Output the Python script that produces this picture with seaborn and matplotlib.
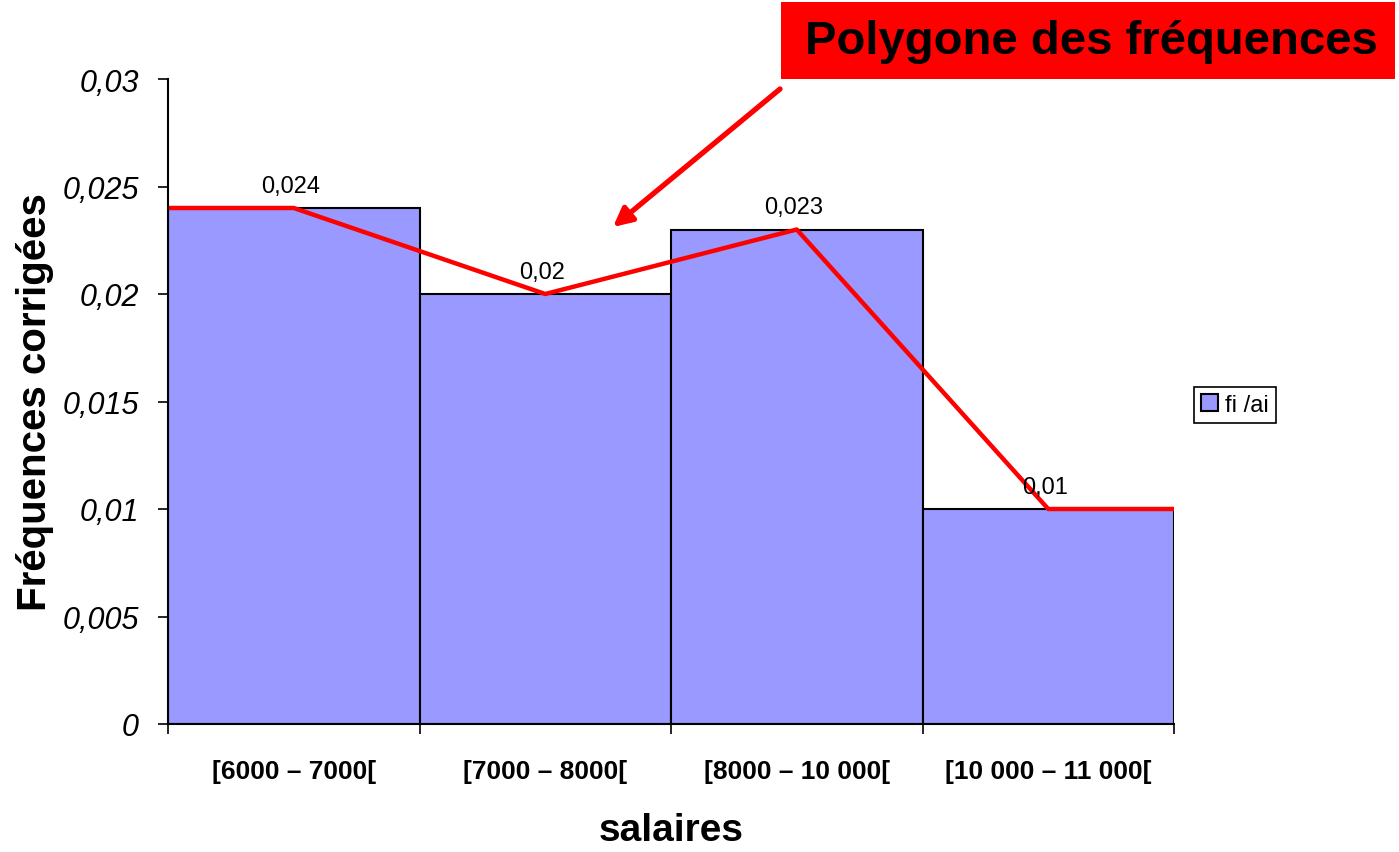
import matplotlib
matplotlib.use("Agg")
import matplotlib.pyplot as plt
from matplotlib.patches import Rectangle, Patch
import numpy as np
import pandas as pd
import seaborn as sns

# données
classes = ["[6000 – 7000[", "[7000 – 8000[", "[8000 – 10 000[", "[10 000 – 11 000["]
freq_corr = [0.024, 0.02, 0.023, 0.01]
labels_valeurs = ["0,024", "0,02", "0,023", "0,01"]
yticks = [0, 0.005, 0.01, 0.015, 0.02, 0.025, 0.03]
yticklabels = ["0", "0,005", "0,01", "0,015", "0,02", "0,025", "0,03"]

sns.set_style("white")
plt.rcParams['font.family'] = ['Liberation Sans', 'DejaVu Sans']
for k in ['text.color', 'axes.labelcolor', 'xtick.color', 'ytick.color']:
    plt.rcParams[k] = 'black'

df = pd.DataFrame({'classe': classes, 'fi /ai': freq_corr})

fig = plt.figure(figsize=(13.99, 8.53), dpi=100)
ax = fig.add_axes([168 / 1399, 1 - 725 / 853, (1174 - 168) / 1399, (725 - 80) / 853])

sns.barplot(data=df, x='classe', y='fi /ai', color='#9999FF', width=1.0,
            edgecolor='black', linewidth=1.5, saturation=1, ax=ax)

# polygone des fréquences (centres des classes + prolongement aux bords)
n = len(classes)
px = [-0.5] + list(range(n)) + [n - 0.5]
py = [freq_corr[0]] + freq_corr + [freq_corr[-1]]
poly = pd.DataFrame({'x': px, 'y': py})
sns.lineplot(data=poly, x='x', y='y', sort=False, color='#FF0000', linewidth=3.2, ax=ax)

# étiquettes de valeurs
for i, (v, t) in enumerate(zip(freq_corr, labels_valeurs)):
    ax.annotate(t, (i, v), xytext=(-2, 8), textcoords='offset points',
                ha='center', va='bottom', fontsize=17)

ax.set_xlim(-0.5, n - 0.5)
ax.set_ylim(0, 0.03)
ax.set_yticks(yticks)
ax.set_yticklabels(yticklabels, fontsize=22, style='italic', va='center_baseline')
ax.tick_params(axis='y', direction='out', length=7, width=1.2, pad=14, left=True)

ax.set_xticks(np.arange(n + 1) - 0.5)
ax.set_xticklabels([])
ax.set_xticks(np.arange(n), minor=True)
ax.set_xticklabels(classes, minor=True, fontsize=19, fontweight='bold')
ax.tick_params(axis='x', which='major', direction='out', length=7, width=1.2, bottom=True)
ax.tick_params(axis='x', which='minor', length=0, pad=25)

for s in ['top', 'right']:
    ax.spines[s].set_visible(False)
for s in ['left', 'bottom']:
    ax.spines[s].set_color('black')
    ax.spines[s].set_linewidth(1.5)

ax.set_xlabel('salaires', fontsize=28, fontweight='bold', labelpad=21)
ax.set_ylabel('Fréquences corrigées', fontsize=29, fontweight='bold', labelpad=6)

# légende
leg = ax.legend(handles=[Patch(facecolor='#9999FF', edgecolor='black', linewidth=1.5, label='fi /ai')],
                loc='center left', bbox_to_anchor=(1194 / 1399, 1 - 406 / 853),
                bbox_transform=fig.transFigure, fontsize=17, frameon=True, fancybox=False,
                framealpha=1, edgecolor='black', borderpad=0.3, handlelength=0.7,
                handleheight=0.7, handletextpad=0.3, borderaxespad=0)
leg.get_frame().set_linewidth(1.2)

# encadré titre
fig.add_artist(Rectangle((781 / 1399, 1 - 80 / 853), (1395 - 781) / 1399, 77 / 853,
                         transform=fig.transFigure, facecolor='#FF0000', edgecolor='none'))
fig.text(1091 / 1399, 1 - 42 / 853, 'Polygone des fréquences', ha='center', va='center',
         fontsize=34, fontweight='bold', color='black')

# flèche
ax.annotate('', xy=(613 / 1399, 1 - 228 / 853), xycoords='figure fraction',
            xytext=(780 / 1399, 1 - 90 / 853), textcoords='figure fraction',
            arrowprops=dict(arrowstyle='-|>', color='#FF0000', lw=3.8, mutation_scale=28,
                            shrinkA=0, shrinkB=0))

fig.savefig('out.png', dpi=100)
